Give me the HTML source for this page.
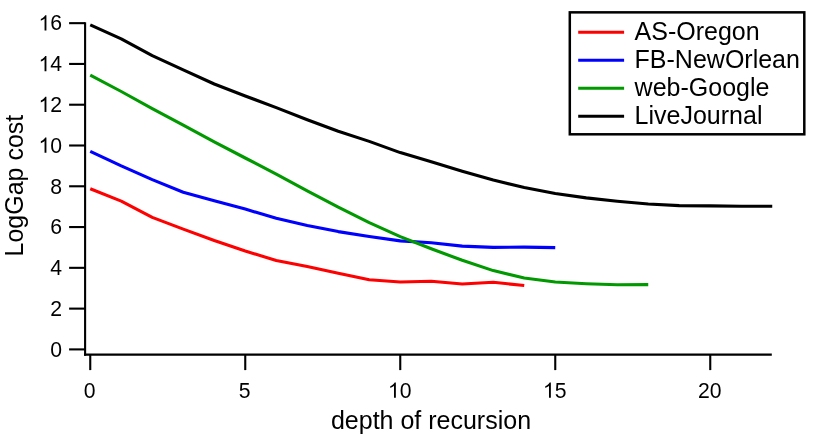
<!DOCTYPE html>
<html><head><meta charset="utf-8"><title>LogGap cost vs depth of recursion</title>
<style>
html,body{margin:0;padding:0;background:#fff;}
body{width:822px;height:434px;overflow:hidden;}
#wrap{width:822px;height:434px;will-change:transform;}
svg{display:block;}
text{font-family:"Liberation Sans",sans-serif;fill:#000;}
</style></head><body><div id="wrap">
<svg width="822" height="434" viewBox="0 0 822 434">
<rect x="0" y="0" width="822" height="434" fill="#fff"/>

<g fill="none" stroke-width="3.1" stroke-linejoin="round" stroke-linecap="butt">
<polyline stroke="#ff0000" points="90.25,188.80 121.25,201.10 152.25,217.40 183.25,229.10 214.25,240.50 245.25,251.00 276.25,260.50 307.25,266.60 338.25,273.20 369.25,279.80 400.25,282.00 431.25,281.30 462.25,284.00 493.25,282.30 524.25,285.50"/>
<polyline stroke="#0000ff" points="90.25,151.30 121.25,165.90 152.25,179.60 183.25,192.20 214.25,200.80 245.25,209.10 276.25,218.30 307.25,225.50 338.25,231.60 369.25,236.50 400.25,240.90 431.25,242.80 462.25,246.10 493.25,247.40 524.25,247.10 555.25,247.60"/>
<polyline stroke="#009900" points="90.25,75.20 121.25,91.50 152.25,108.60 183.25,125.20 214.25,141.90 245.25,158.00 276.25,174.20 307.25,190.80 338.25,207.20 369.25,222.70 400.25,236.60 431.25,248.80 462.25,260.30 493.25,270.60 524.25,278.00 555.25,282.00 586.25,283.70 617.25,284.80 648.25,284.60"/>
<polyline stroke="#000000" points="90.25,24.90 121.25,38.80 152.25,55.70 183.25,69.80 214.25,84.00 245.25,96.00 276.25,107.60 307.25,119.80 338.25,131.30 369.25,141.40 400.25,152.60 431.25,161.80 462.25,171.20 493.25,180.10 524.25,187.40 555.25,193.50 586.25,197.90 617.25,201.20 648.25,204.00 679.25,205.60 710.25,205.90 741.25,206.20 772.25,206.30"/>
</g>
<g stroke="#000" stroke-width="2.1" fill="none" stroke-linecap="butt">
<line x1="85.1" y1="22.2" x2="85.1" y2="355.65"/>
<line x1="84.05" y1="354.6" x2="771.8" y2="354.6"/>
<line x1="69.1" y1="349.40" x2="85" y2="349.40"/>
<line x1="69.1" y1="308.62" x2="85" y2="308.62"/>
<line x1="69.1" y1="267.84" x2="85" y2="267.84"/>
<line x1="69.1" y1="227.06" x2="85" y2="227.06"/>
<line x1="69.1" y1="186.28" x2="85" y2="186.28"/>
<line x1="69.1" y1="145.50" x2="85" y2="145.50"/>
<line x1="69.1" y1="104.72" x2="85" y2="104.72"/>
<line x1="69.1" y1="63.94" x2="85" y2="63.94"/>
<line x1="69.1" y1="23.16" x2="85" y2="23.16"/>
<line x1="90.25" y1="354.6" x2="90.25" y2="370.1"/>
<line x1="245.25" y1="354.6" x2="245.25" y2="370.1"/>
<line x1="400.25" y1="354.6" x2="400.25" y2="370.1"/>
<line x1="555.25" y1="354.6" x2="555.25" y2="370.1"/>
<line x1="710.25" y1="354.6" x2="710.25" y2="370.1"/>
</g>
<text x="50.31" y="356.70" font-size="21.2">0</text>
<text x="50.31" y="315.92" font-size="21.2">2</text>
<text x="50.31" y="275.14" font-size="21.2">4</text>
<text x="50.31" y="234.36" font-size="21.2">6</text>
<text x="50.31" y="193.58" font-size="21.2">8</text>
<path transform="translate(38.52,152.80) scale(0.01035,-0.01035)" d="M763 0H583V1147Q518 1085 412.5 1023Q307 961 223 930V1104Q374 1175 487 1276Q600 1377 647 1472H763Z" fill="#000"/>
<text x="50.31" y="152.80" font-size="21.2">0</text>
<path transform="translate(38.52,112.02) scale(0.01035,-0.01035)" d="M763 0H583V1147Q518 1085 412.5 1023Q307 961 223 930V1104Q374 1175 487 1276Q600 1377 647 1472H763Z" fill="#000"/>
<text x="50.31" y="112.02" font-size="21.2">2</text>
<path transform="translate(38.52,71.24) scale(0.01035,-0.01035)" d="M763 0H583V1147Q518 1085 412.5 1023Q307 961 223 930V1104Q374 1175 487 1276Q600 1377 647 1472H763Z" fill="#000"/>
<text x="50.31" y="71.24" font-size="21.2">4</text>
<path transform="translate(38.52,30.46) scale(0.01035,-0.01035)" d="M763 0H583V1147Q518 1085 412.5 1023Q307 961 223 930V1104Q374 1175 487 1276Q600 1377 647 1472H763Z" fill="#000"/>
<text x="50.31" y="30.46" font-size="21.2">6</text>
<text x="83.85" y="397.70" font-size="21.2">0</text>
<text x="238.85" y="397.70" font-size="21.2">5</text>
<path transform="translate(387.96,397.70) scale(0.01035,-0.01035)" d="M763 0H583V1147Q518 1085 412.5 1023Q307 961 223 930V1104Q374 1175 487 1276Q600 1377 647 1472H763Z" fill="#000"/>
<text x="399.75" y="397.70" font-size="21.2">0</text>
<path transform="translate(542.96,397.70) scale(0.01035,-0.01035)" d="M763 0H583V1147Q518 1085 412.5 1023Q307 961 223 930V1104Q374 1175 487 1276Q600 1377 647 1472H763Z" fill="#000"/>
<text x="554.75" y="397.70" font-size="21.2">5</text>
<text x="697.96" y="397.70" font-size="21.2">2</text>
<text x="709.75" y="397.70" font-size="21.2">0</text>
<text font-size="25.0" x="431" y="428.5" text-anchor="middle">depth of recursion</text>
<text font-size="25.0" transform="translate(23.0,185.6) rotate(-90)" text-anchor="middle">LogGap cost</text>
<rect x="569.8" y="12.35" width="234.5" height="121.95" fill="#fff" stroke="#000" stroke-width="2.5"/>
<g fill="none" stroke-width="3.1">
<line stroke="#ff0000" x1="578.2" y1="32.2" x2="624.1" y2="32.2"/>
<line stroke="#0000ff" x1="578.2" y1="60.2" x2="624.1" y2="60.2"/>
<line stroke="#009900" x1="578.2" y1="88.2" x2="624.1" y2="88.2"/>
<line stroke="#000000" x1="578.2" y1="116.2" x2="624.1" y2="116.2"/>
</g>
<text font-size="25.0" x="634.6" y="40.1">AS-Oregon</text>
<text font-size="25.0" x="634.6" y="68.15">FB-NewOrlean</text>
<text font-size="25.0" x="634.6" y="96.15">web-Google</text>
<text font-size="25.0" x="634.6" y="124.1">LiveJournal</text>
</svg>
</div></body></html>
